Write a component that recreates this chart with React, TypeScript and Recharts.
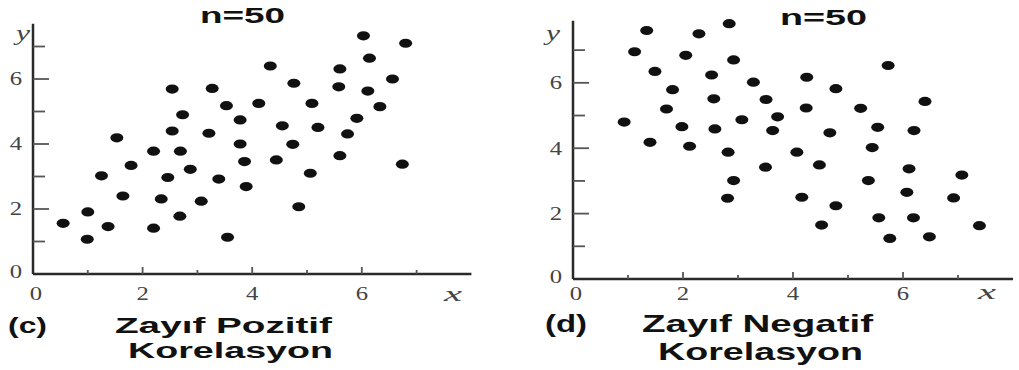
import React from 'react';
import { ScatterChart, Scatter, XAxis, YAxis } from 'recharts';

const xTicks = [0, 1, 2, 3, 4, 5, 6, 7];
const yTicks = [0, 1, 2, 3, 4, 5, 6, 7];

const posX = [0.55, 0.99, 1.0, 1.25, 1.37, 1.53, 1.64, 1.79, 2.2, 2.2, 2.34, 2.46, 2.54, 2.54, 2.68, 2.69, 2.73, 2.87, 3.07, 3.21, 3.27, 3.39, 3.53, 3.55, 3.78, 3.78, 3.86, 3.89, 4.12, 4.33, 4.44, 4.55, 4.74, 4.76, 4.85, 5.06, 5.09, 5.2, 5.58, 5.6, 5.6, 5.74, 5.91, 6.03, 6.11, 6.14, 6.33, 6.56, 6.74, 6.8];
const posY = [1.56, 1.07, 1.91, 3.02, 1.46, 4.19, 2.4, 3.34, 1.41, 3.78, 2.31, 2.97, 4.4, 5.69, 1.78, 3.78, 4.9, 3.22, 2.24, 4.33, 5.71, 2.92, 5.18, 1.13, 4.74, 4.0, 3.46, 2.69, 5.25, 6.4, 3.51, 4.56, 3.99, 5.87, 2.07, 3.1, 5.25, 4.51, 5.76, 6.31, 3.64, 4.31, 4.79, 7.33, 5.63, 6.64, 5.15, 6.0, 3.38, 7.1];

const negX = [0.93, 1.12, 1.34, 1.49, 1.4, 1.7, 1.81, 1.98, 2.05, 2.12, 2.29, 2.52, 2.56, 2.58, 2.81, 2.82, 2.84, 2.92, 2.92, 3.07, 3.28, 3.5, 3.51, 3.63, 3.72, 4.07, 4.16, 4.24, 4.25, 4.48, 4.52, 4.67, 4.78, 4.78, 5.23, 5.37, 5.44, 5.54, 5.56, 5.73, 5.76, 6.07, 6.11, 6.2, 6.19, 6.4, 6.48, 6.92, 7.07, 7.39];
const negY = [4.8, 6.95, 7.6, 6.35, 4.18, 5.2, 5.79, 4.66, 6.84, 4.06, 7.5, 6.24, 5.51, 4.59, 2.47, 3.88, 7.81, 3.01, 6.7, 4.87, 6.02, 3.42, 5.49, 4.54, 4.96, 3.88, 2.5, 5.23, 6.17, 3.49, 1.65, 4.47, 2.24, 5.82, 5.22, 3.01, 4.02, 4.64, 1.87, 6.53, 1.24, 2.65, 3.37, 4.54, 1.87, 5.43, 1.29, 2.48, 3.18, 1.63];

const posData = posX.map((x, i) => ({ x, y: posY[i] }));
const negData = negX.map((x, i) => ({ x, y: negY[i] }));

const AXIS = '#2a2a2a';
const LABEL = '#444';

const Dot = (props: any) => {
  const { cx, cy } = props;
  if (cx == null || cy == null) return null;
  return <ellipse cx={cx} cy={cy} rx={6.5} ry={4.6} fill="#111" />;
};

const makeYTick = () => (props: any) => {
  const { x, y, payload } = props;
  const v = payload.value;
  const major = v % 2 === 0;
  return (
    <g>
      {v !== 0 && (
        <line x1={x} x2={x + (major ? 16 : 12)} y1={y} y2={y} stroke="#555" strokeWidth={1.8} />
      )}
      {major && (
        <text
          transform={`translate(${x - 17},${y - (v === 0 ? 2 : 0)}) scale(1.3,1)`}
          textAnchor="middle"
          dominantBaseline="central"
          fontFamily="Liberation Serif, serif"
          fontSize={19}
          fill={LABEL}
        >
          {v}
        </text>
      )}
    </g>
  );
};

const makeXTick = (dy: number) => (props: any) => {
  const { x, y, payload } = props;
  const v = payload.value;
  const major = v % 2 === 0;
  return (
    <g>
      {v !== 0 && (
        <line x1={x} x2={x} y1={y} y2={y - (major ? 7 : 4)} stroke="#555" strokeWidth={1.8} />
      )}
      {major && (
        <text
          transform={`translate(${x + (v === 0 ? 3 : 0)},${y + dy}) scale(1.3,1)`}
          textAnchor="middle"
          dominantBaseline="central"
          fontFamily="Liberation Serif, serif"
          fontSize={19}
          fill={LABEL}
        >
          {v}
        </text>
      )}
    </g>
  );
};

const bold = { fontFamily: 'Liberation Sans, Arial, sans-serif', fontWeight: 700, fill: '#111' } as const;
const ital = { fontFamily: 'Liberation Serif, serif', fontStyle: 'italic', fill: LABEL, fontSize: 20 } as const;

export default function App() {
  return (
    <div style={{ position: 'absolute', left: 0, top: 0, width: 1019, height: 370, background: '#fff' }}>
      <div style={{ position: 'absolute', left: 0, top: 0 }}>
        <ScatterChart width={500} height={370} margin={{ top: 23.75, right: 28.6, bottom: 0, left: 0 }}>
          <XAxis
            type="number"
            dataKey="x"
            domain={[0, 8]}
            ticks={xTicks}
            height={96}
            tickSize={0}
            tickMargin={0}
            tickLine={false}
            axisLine={{ stroke: AXIS, strokeWidth: 2.5 }}
            tick={makeXTick(20)}
            interval={0}
          />
          <YAxis
            type="number"
            dataKey="y"
            domain={[0, 7.7]}
            ticks={yTicks}
            width={33}
            tickSize={0}
            tickMargin={0}
            tickLine={false}
            axisLine={{ stroke: AXIS, strokeWidth: 2.5 }}
            tick={makeYTick()}
            interval={0}
          />
          <Scatter data={posData} shape={Dot} isAnimationActive={false} />
        </ScatterChart>
      </div>
      <div style={{ position: 'absolute', left: 540, top: 0 }}>
        <ScatterChart width={479} height={370} margin={{ top: 20.7, right: 6, bottom: 0, left: 0 }}>
          <XAxis
            type="number"
            dataKey="x"
            domain={[0, 8]}
            ticks={xTicks}
            height={91}
            tickSize={0}
            tickMargin={0}
            tickLine={false}
            axisLine={{ stroke: AXIS, strokeWidth: 2.5 }}
            tick={makeXTick(15)}
            interval={0}
          />
          <YAxis
            type="number"
            dataKey="y"
            domain={[0, 7.9]}
            ticks={yTicks}
            width={33}
            tickSize={0}
            tickMargin={0}
            tickLine={false}
            axisLine={{ stroke: AXIS, strokeWidth: 2.5 }}
            tick={makeYTick()}
            interval={0}
          />
          <Scatter data={negData} shape={Dot} isAnimationActive={false} />
        </ScatterChart>
      </div>
      <svg width={1019} height={370} style={{ position: 'absolute', left: 0, top: 0, pointerEvents: 'none' }}>
        <text x={200} y={23} fontSize={22} textLength={85} lengthAdjust="spacingAndGlyphs" {...bold}>n=50</text>
        <text x={780} y={25} fontSize={22} textLength={87} lengthAdjust="spacingAndGlyphs" {...bold}>n=50</text>
        <text x={16} y={40} {...ital} textLength={14} lengthAdjust="spacingAndGlyphs">y</text>
        <text x={546} y={40} {...ital} textLength={14} lengthAdjust="spacingAndGlyphs">y</text>
        <text x={444} y={301} {...ital} textLength={18} lengthAdjust="spacingAndGlyphs">x</text>
        <text x={978} y={299} {...ital} textLength={18} lengthAdjust="spacingAndGlyphs">x</text>

        <text x={8} y={333} fontSize={22} textLength={39} lengthAdjust="spacingAndGlyphs" {...bold}>(c)</text>
        <text x={115} y={333} fontSize={22} textLength={217} lengthAdjust="spacingAndGlyphs" {...bold}>Zayıf Pozitif</text>
        <text x={128} y={358} fontSize={22} textLength={205} lengthAdjust="spacingAndGlyphs" {...bold}>Korelasyon</text>

        <text x={545} y={332} fontSize={24} textLength={42} lengthAdjust="spacingAndGlyphs" {...bold}>(d)</text>
        <text x={642} y={332} fontSize={24} textLength={231} lengthAdjust="spacingAndGlyphs" {...bold}>Zayıf Negatif</text>
        <text x={658} y={360} fontSize={24} textLength={205} lengthAdjust="spacingAndGlyphs" {...bold}>Korelasyon</text>
      </svg>
    </div>
  );
}
